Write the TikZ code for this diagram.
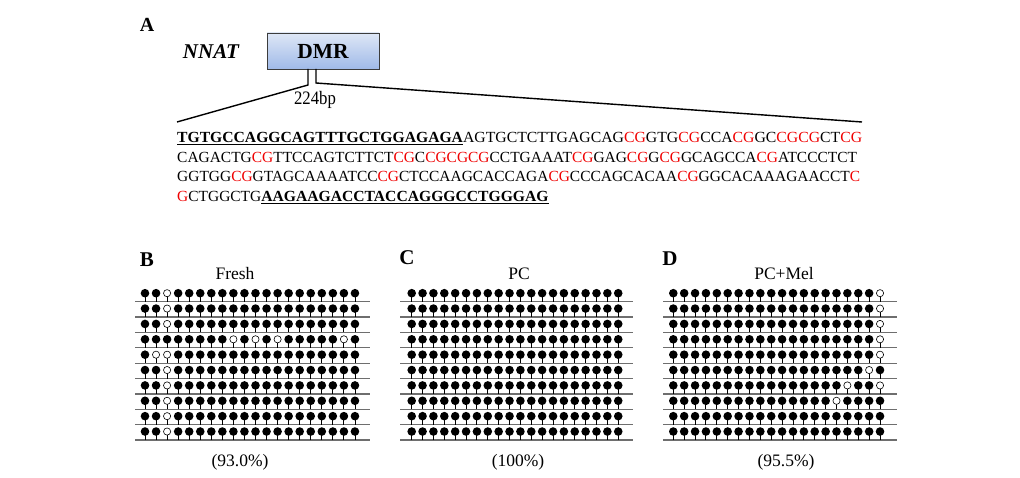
\documentclass[tikz,border=0pt]{standalone}
\usepackage{fontspec}
\setmainfont{Liberation Serif}
\definecolor{cgred}{RGB}{240,0,0}
\definecolor{boxtop}{RGB}{222,231,246}
\definecolor{boxbot}{RGB}{160,186,232}
\definecolor{boxedge}{RGB}{60,60,60}
\definecolor{rowline}{RGB}{110,110,110}
\newcommand\cg{\textcolor{cgred}{CG}}
\newcommand\bu[1]{\underline{\scalebox{1.012}[1]{\textbf{#1}}}}
\makeatletter
\newcommand\lolrow[6]{%
  \draw[rowln] (#2,#1) -- (#3,#1);
  \foreach \i in {1,...,20}{%
    \pgfmathsetmacro\lx{#4+(\i-1)*#5}%
    \draw[stemln] (\lx,#1) -- (\lx,#1-6);
    \edef\lolchk{\noexpand\in@{+\i+}{+#6+}}\lolchk
    \ifin@ \draw[opencirc] (\lx,#1-8.5) circle[radius=3.6pt];\else \fill (\lx,#1-8.5) circle[radius=4.3pt];\fi
  }%
}
\makeatother
\tikzset{
  rowln/.style={draw=rowline, line width=1.2pt},
  stemln/.style={draw=black, line width=0.9pt},
  opencirc/.style={draw=black, fill=white, line width=0.6pt},
  panellbl/.style={font=\fontsize{21}{23}\selectfont\bfseries},
  ttl/.style={font=\fontsize{17.5}{19}\selectfont},
  seq/.style={font=\fontsize{15.45}{17}\selectfont, anchor=base west, inner sep=0pt},
  zoomln/.style={draw=black, line width=1.4pt},
}
\begin{document}
\begin{tikzpicture}[x=1pt,y=-1pt]
\useasboundingbox[fill=white] (0,0) rectangle (1020,478);
% panel A
\node[font=\fontsize{20}{22}\selectfont\bfseries] (lblA) at (147,25) {A};
\node[font=\fontsize{21}{23}\selectfont\bfseries\itshape] (nnat) at (211,52) {NNAT};
\node[draw=boxedge, line width=0.9pt, top color=boxtop, bottom color=boxbot,
      minimum width=112pt, minimum height=36pt, inner sep=0pt,
      font=\fontsize{21.5}{23}\selectfont\bfseries] (dmr) at (323,51) {DMR};
\coordinate (stL) at (308,69);
\coordinate (stR) at (316,69);
\coordinate (stLb) at (308,85);
\coordinate (stRb) at (316,83);
\coordinate (seqL) at (177,122);
\coordinate (seqR) at (862,122);
\draw[zoomln] (stL) -- (stLb) -- (seqL);
\draw[zoomln] (stR) -- (stRb) -- (seqR);
\node[font=\fontsize{19}{21}\selectfont] (bp) at (315,100) {\scalebox{0.88}[1]{224bp}};
\node[seq] (s1) at (177,143) {\bu{TGTGCCAGGCAGTTTGCTGGAGAGA}\scalebox{1.02}[1]{AGTGCTCTTGAGCAG\cg GTG\cg CCA\cg GC\cg\cg CT\cg}};
\node[seq] (s2) at (177,162.5) {CAGACTG\cg TTCCAGTCTTCT\cg C\cg\cg\cg CCTGAAAT\cg GAG\cg G\cg GCAGCCA\cg ATCCCTCT};
\node[seq] (s3) at (177,182) {GGTGG\cg GTAGCAAAATCC\cg CTCCAAGCACCAGA\cg CCCAGCACAA\cg GGCACAAAGAACCT\textcolor{cgred}{C}};
\node[seq] (s4) at (177,201.5) {\textcolor{cgred}{G}CTGGCTG\bu{AAGAAGACCTACCAGGGCCTGGGAG}};
% panel B
\node[panellbl] (lblB) at (147,260) {B};
\node[ttl] (tB) at (235,274) {Fresh};
\foreach \r/\op in {0/3,1/3,2/3,3/9+11+13+19,4/2+3,5/3,6/3,7/3,8/3,9/3}{
  \lolrow{301.7+\r*15.37}{135}{370}{145}{11.05}{\op}
}
\node[ttl] (pB) at (240,462) {(93.0\%)};
% panel C
\node[panellbl] (lblC) at (407,258) {C};
\node[ttl] (tC) at (519,274) {PC};
\foreach \r/\op in {0/0,1/0,2/0,3/0,4/0,5/0,6/0,7/0,8/0,9/0}{
  \lolrow{301.7+\r*15.37}{400}{633}{411.7}{10.87}{\op}
}
\node[ttl] (pC) at (518,462) {(100\%)};
% panel D
\node[panellbl] (lblD) at (670,259) {D};
\node[ttl] (tD) at (784,274) {PC+Mel};
\foreach \r/\op in {0/20,1/20,2/20,3/20,4/20,5/19,6/17+20,7/16,8/0,9/0}{
  \lolrow{301.7+\r*15.37}{663}{897}{673.3}{10.88}{\op}
}
\node[ttl] (pD) at (786,462) {(95.5\%)};
\end{tikzpicture}
\end{document}
